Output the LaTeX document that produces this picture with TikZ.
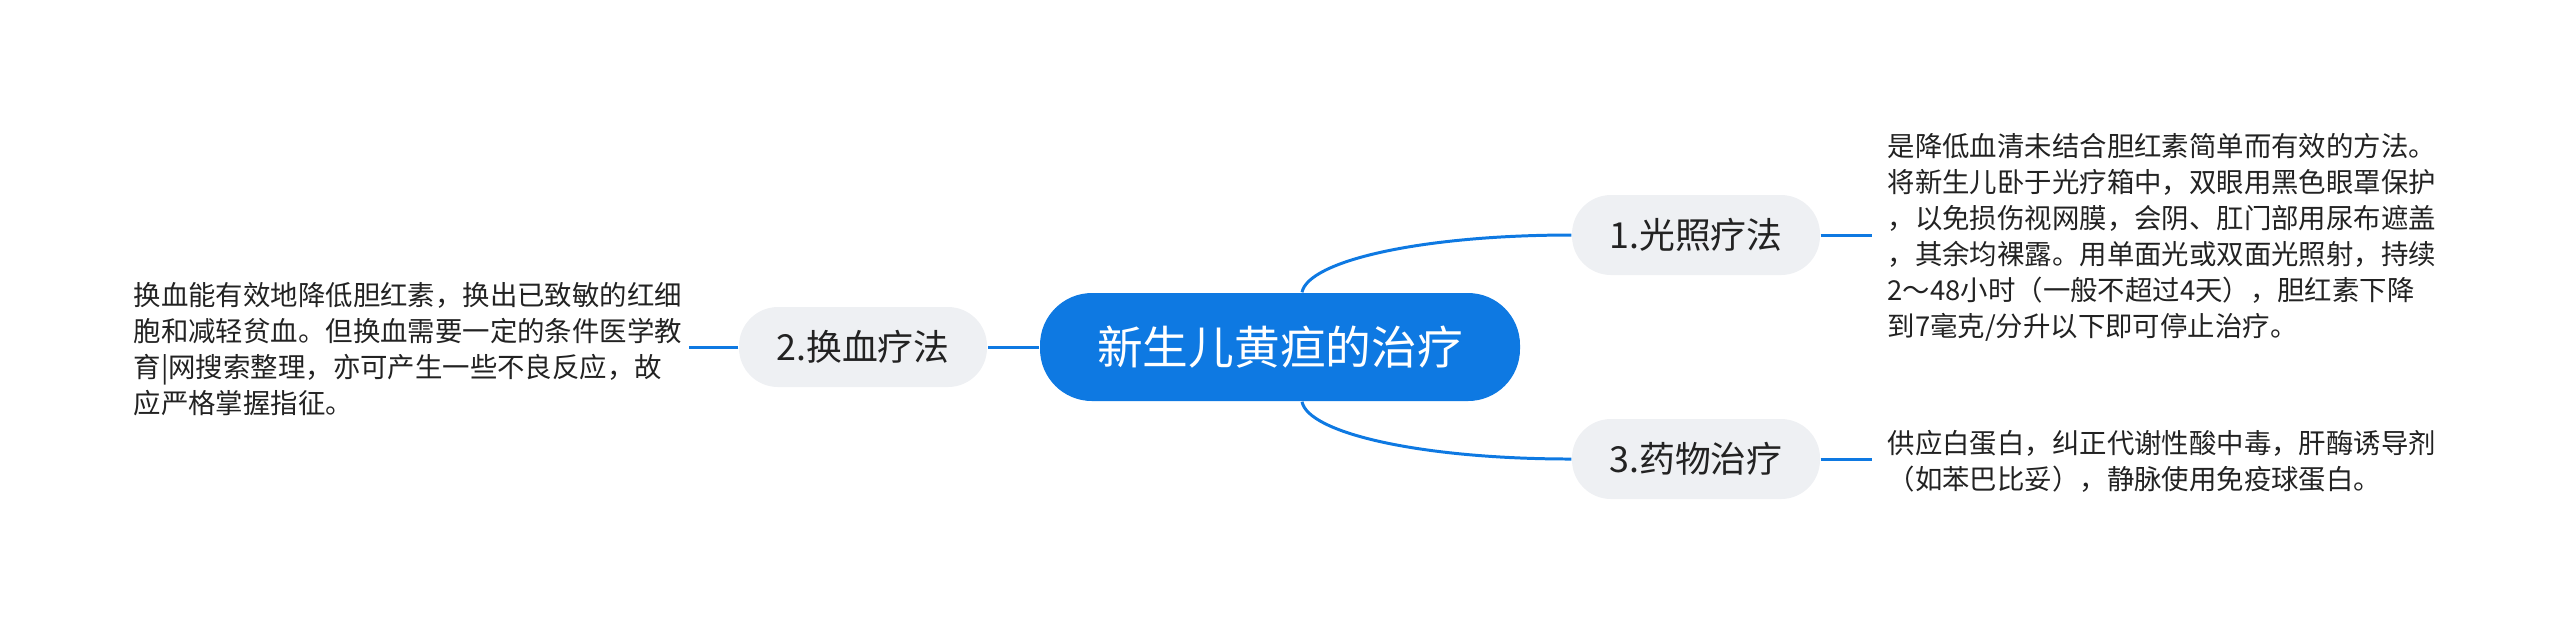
\documentclass[tikz,border=0pt]{standalone}
\usepackage{fontspec}
\newfontfamily\cjk{Noto Sans CJK SC}
\definecolor{mapblue}{RGB}{14,121,226}
\definecolor{subgray}{RGB}{238,240,243}
\definecolor{inkgray}{RGB}{34,34,34}

\begin{document}
\begin{tikzpicture}[
    rootbox/.style={fill=mapblue, text=white, rounded corners=0.52cm, minimum width=4.8cm, minimum height=1.08cm, font=\cjk\fontsize{13}{15}\selectfont},
    subbox/.style={fill=subgray, text=inkgray, rounded corners=0.39cm, minimum width=2.48cm, minimum height=0.8cm, font=\cjk\fontsize{10.2}{12}\selectfont},
    notetext/.style={anchor=west, inner sep=0pt, align=left, text=inkgray, font=\cjk\fontsize{7.8}{10.24}\selectfont},
    branch/.style={draw=mapblue, line width=0.85pt}
]
    \useasboundingbox (0,0) rectangle (25.6,-6.25);

    %centre and the three branches
    \node[rootbox] (root) at (12.80,-3.47) {新生儿黄疸的治疗};
    \node[subbox] (light) at (16.96,-2.35) {1.光照疗法};
    \node[subbox] (blood) at (8.63,-3.47) {2.换血疗法};
    \node[subbox] (drug) at (16.96,-4.59) {3.药物治疗};

    %notes
    \node[notetext] (lightnote) at (18.87,-2.37) {是降低血清未结合胆红素简单而有效的方法。\\将新生儿卧于光疗箱中，双眼用黑色眼罩保护\\，以免损伤视网膜，会阴、肛门部用尿布遮盖\\，其余均裸露。用单面光或双面光照射，持续\\2～48小时（一般不超过4天），胆红素下降\\到7毫克/分升以下即可停止治疗。};
    \node[notetext] (bloodnote) at (1.33,-3.49) {换血能有效地降低胆红素，换出已致敏的红细\\胞和减轻贫血。但换血需要一定的条件医学教\\育|网搜索整理，亦可产生一些不良反应，故\\应严格掌握指征。};
    \node[notetext] (drugnote) at (18.87,-4.61) {供应白蛋白，纠正代谢性酸中毒，肝酶诱导剂\\（如苯巴比妥），静脉使用免疫球蛋白。};

    \coordinate (lightend) at (18.72,-2.35);
    \coordinate (bloodend) at (6.89,-3.47);
    \coordinate (drugend) at (18.72,-4.59);

    %connectors
    \draw[branch] ([xshift=2.2mm]root.north) .. controls +(0.06,0.31) and +(-1.52,0) .. (light.west);
    \draw[branch] ([xshift=2.2mm]root.south) .. controls +(0.06,-0.31) and +(-1.52,0) .. (drug.west);
    \draw[branch] (root.west) -- (blood.east);

    \draw[branch] (light.east) -- (lightend);
    \draw[branch] (drug.east) -- (drugend);
    \draw[branch] (blood.west) -- (bloodend);
\end{tikzpicture}
\end{document}
